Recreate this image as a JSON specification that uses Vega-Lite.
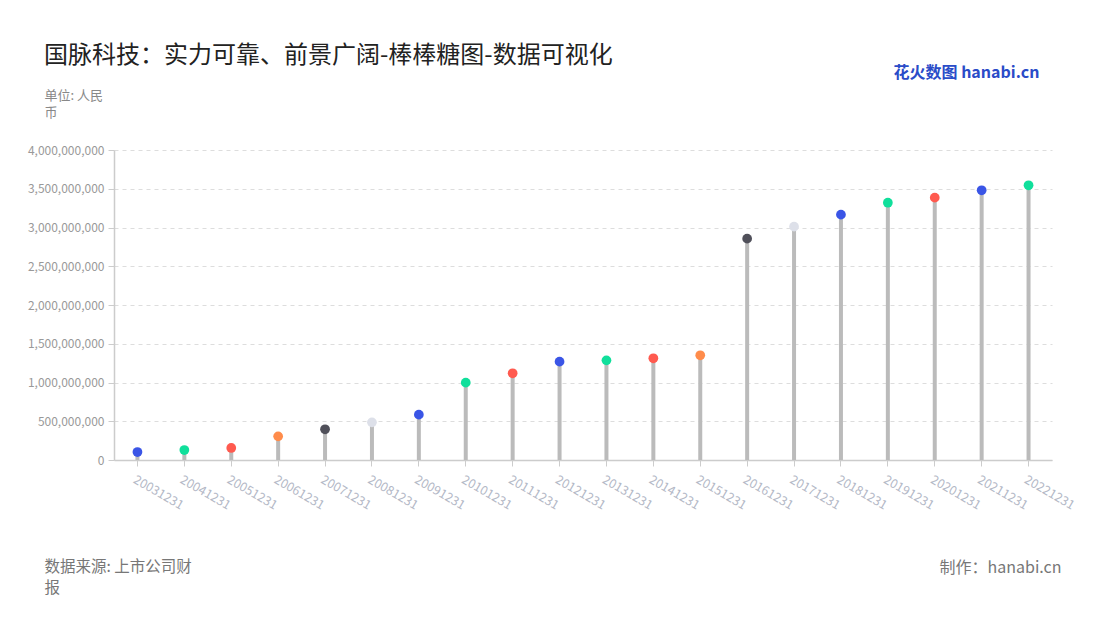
{
  "$schema": "https://vega.github.io/schema/vega-lite/v6.json",
  "width": 938,
  "height": 310,
  "autosize": {"type": "none"},
  "padding": {"left": 114, "top": 150, "right": 48, "bottom": 160},
  "background": "#ffffff",
  "config": {
    "view": {"stroke": null},
    "font": "Noto Sans CJK SC"
  },
  "title": {
    "text": "国脉科技：实力可靠、前景广阔-棒棒糖图-数据可视化",
    "anchor": "start",
    "frame": "group",
    "dx": -70,
    "dy": 14,
    "fontSize": 24,
    "fontWeight": "normal",
    "color": "#222222",
    "font": "Noto Sans CJK SC",
    "offset": 10
  },
  "data": {
    "values": [
      {"date": "20031231", "value": 103000000, "group": "A"},
      {"date": "20041231", "value": 129000000, "group": "B"},
      {"date": "20051231", "value": 155000000, "group": "C"},
      {"date": "20061231", "value": 305000000, "group": "D"},
      {"date": "20071231", "value": 396000000, "group": "E"},
      {"date": "20081231", "value": 486000000, "group": "F"},
      {"date": "20091231", "value": 585000000, "group": "A"},
      {"date": "20101231", "value": 998000000, "group": "B"},
      {"date": "20111231", "value": 1119000000, "group": "C"},
      {"date": "20121231", "value": 1269000000, "group": "A"},
      {"date": "20131231", "value": 1286000000, "group": "B"},
      {"date": "20141231", "value": 1312000000, "group": "C"},
      {"date": "20151231", "value": 1351000000, "group": "D"},
      {"date": "20161231", "value": 2856000000, "group": "E"},
      {"date": "20171231", "value": 3011000000, "group": "F"},
      {"date": "20181231", "value": 3166000000, "group": "A"},
      {"date": "20191231", "value": 3320000000, "group": "B"},
      {"date": "20201231", "value": 3385000000, "group": "C"},
      {"date": "20211231", "value": 3480000000, "group": "A"},
      {"date": "20221231", "value": 3545000000, "group": "B"}
    ]
  },
  "layer": [
    {
      "mark": {"type": "rule", "strokeWidth": 4, "color": "#bbbbbb"},
      "encoding": {
        "x": {
          "field": "date", "type": "ordinal", "sort": null,
          "scale": {"paddingInner": 0, "paddingOuter": 0},
          "axis": {
            "orient": "bottom",
            "labelAngle": 30,
            "labelAlign": "left",
            "labelBaseline": "top",
            "labelPadding": 7,
            "labelColor": "#b3b8c6",
            "labelFontSize": 12.5,
            "labelFont": "Noto Sans CJK SC",
            "domainColor": "#cccccc",
            "domainWidth": 1.5,
            "tickColor": "#cccccc",
            "tickSize": 6,
            "tickWidth": 1,
            "grid": false,
            "title": ["数据来源: 上市公司财", "报"],
            "titleFont": "Noto Sans CJK SC",
            "titleFontSize": 15.5,
            "titleFontWeight": "normal",
            "titleColor": "#777777",
            "titleAlign": "left",
            "titleBaseline": "top",
            "titleAnchor": "start",
            "titleLineHeight": 21,
            "titleX": -70,
            "titleY": 99,
            "titleAngle": 0
          }
        },
        "y": {
          "field": "value", "type": "quantitative",
          "scale": {"domain": [0, 4000000000], "nice": false},
          "axis": {
            "orient": "left",
            "values": [0, 500000000, 1000000000, 1500000000, 2000000000, 2500000000, 3000000000, 3500000000, 4000000000],
            "format": ",d",
            "labelColor": "#999999",
            "labelFontSize": 12,
            "labelFont": "Noto Sans CJK SC",
            "labelPadding": 4,
            "domainColor": "#cccccc",
            "domainWidth": 1.5,
            "tickColor": "#cccccc",
            "tickSize": 6,
            "grid": true,
            "gridColor": "#dddddd",
            "gridDash": [4, 4],
            "gridWidth": 1,
            "title": ["单位: 人民", "币"],
            "titleFont": "Noto Sans CJK SC",
            "titleFontSize": 13,
            "titleFontWeight": "normal",
            "titleColor": "#888888",
            "titleAngle": 0,
            "titleAlign": "left",
            "titleBaseline": "top",
            "titleLineHeight": 17.5,
            "titleX": -70,
            "titleY": -61
          }
        },
        "y2": {"datum": 0}
      }
    },
    {
      "mark": {"type": "point", "filled": true, "size": 95, "opacity": 1},
      "encoding": {
        "x": {
          "field": "date", "type": "ordinal", "sort": null,
          "axis": {
            "orient": "top",
            "labels": false, "ticks": false, "domain": false, "grid": false,
            "title": "花火数图 hanabi.cn",
            "titleFont": "Noto Sans CJK SC",
            "titleFontSize": 16,
            "titleFontWeight": "bold",
            "titleColor": "#2a4cc8",
            "titleAlign": "left",
            "titleBaseline": "middle",
            "titleAngle": 0,
            "titleX": 779,
            "titleY": -78
          }
        },
        "y": {
          "field": "value", "type": "quantitative",
          "axis": {
            "orient": "right",
            "labels": false, "ticks": false, "domain": false, "grid": false,
            "title": "制作：hanabi.cn",
            "titleFont": "Noto Sans CJK SC",
            "titleFontSize": 16,
            "titleFontWeight": "normal",
            "titleColor": "#777777",
            "titleAngle": 0,
            "titleAlign": "right",
            "titleBaseline": "middle",
            "titleX": 9,
            "titleY": 417
          }
        },
        "color": {
          "field": "group", "type": "nominal",
          "scale": {"domain": ["A", "B", "C", "D", "E", "F"], "range": ["#3a55e6", "#10df9b", "#ff5a4f", "#ff8c4b", "#50505a", "#dde0e9"]},
          "legend": null
        }
      }
    }
  ],
  "resolve": {"axis": {"x": "independent", "y": "independent"}}
}
